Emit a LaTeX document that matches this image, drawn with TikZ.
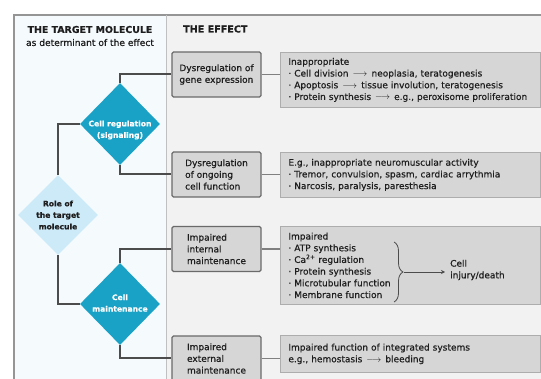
\documentclass[tikz,border=0pt]{standalone}
\usepackage{fontspec}
\setmainfont{DejaVu Sans}[RawFeature={embolden=0.6}]
\usetikzlibrary{shapes.geometric,arrows.meta,decorations.pathreplacing}
\definecolor{tealdia}{HTML}{1AA2C6}
\definecolor{paleblue}{HTML}{CDEAF8}
\definecolor{leftbg}{HTML}{F5FAFD}
\definecolor{rightbg}{HTML}{F2F2F2}
\definecolor{boxfill}{HTML}{D6D6D6}
\definecolor{boxline}{HTML}{6A6A6A}
\definecolor{detline}{HTML}{ADADAD}
\definecolor{conn}{HTML}{4C4C4C}
\definecolor{txt}{HTML}{1E1E1E}
\definecolor{frameline}{HTML}{959595}
\newcommand{\arr}{\hspace{0.45em}$\longrightarrow$\hspace{0.45em}}
\begin{document}
\begin{tikzpicture}[x=1pt,y=-1pt,
  every node/.style={inner sep=0pt, text=txt},
  body/.style={font=\fontsize{9}{11.7}\selectfont},
  effectbox/.style={draw=boxline, line width=1.1pt, fill=boxfill, rounded corners=1.5pt,
    minimum width=89pt, minimum height=45pt, align=left, body},
  detailbox/.style={draw=detline, line width=0.8pt, fill=boxfill, anchor=north west,
    text width=244pt, inner xsep=8pt, align=left, body},
  dshape/.style={diamond, minimum width=80pt, inner sep=0pt},
  dtext/.style={font=\bfseries\fontsize{7.6}{11.5}\selectfont, align=center},
  connector/.style={draw=conn, line width=2pt},
  link/.style={draw=boxline!85, line width=1.8pt},
  hdr/.style={font=\bfseries\fontsize{9.6}{13}\selectfont}
]
\clip (0,0) rectangle (541,379);
% panels
\fill[white] (0,0) rectangle (541,379);
\fill[leftbg] (14,15) rectangle (166,379);
\fill[rightbg] (166,15) rectangle (541,379);
\draw[frameline, line width=1.6pt] (14,379) -- (14,15) -- (541,15);
\draw[frameline!60, line width=0.6pt] (166.5,15) -- (166.5,379);

% headers
\node[align=center] (h1) at (90,36) {{\bfseries\fontsize{9.4}{13}\selectfont THE TARGET MOLECULE}\\[1pt]{\fontsize{9.1}{13}\selectfont as determinant of the effect}};
\node[hdr, anchor=west] (h2) at (183,29) {THE EFFECT};

% diamonds
\node[dshape, fill=paleblue, minimum height=80pt] (role) at (58,215) {};
\node[dtext] (rolet) at (58,215) {Role of\\the target\\molecule};
\node[dshape, fill=tealdia, minimum height=82pt] (cr) at (120,124) {};
\node[dtext, text=white] (crt) at (120,130) {Cell regulation\\(signaling)};
\node[dshape, fill=tealdia, minimum height=82pt] (cm) at (120,304) {};
\node[dtext, text=white] (cmt) at (120,303) {Cell\\maintenance};

% effect boxes
\node[effectbox] (b1) at (216.5,74.5) {Dysregulation of\\gene expression};
\node[effectbox] (b2) at (216.5,174.5) {Dysregulation\\of ongoing\\cell function};
\node[effectbox] (b3) at (216.5,249) {Impaired\\internal\\maintenance};
\node[effectbox] (b4) at (216.5,358.5) {Impaired\\external\\maintenance};

% detail boxes
\node[detailbox, minimum height=55pt] (d1) at (280,52) {Inappropriate\\· Cell division\arr neoplasia, teratogenesis\\· Apoptosis\arr tissue involution, teratogenesis\\· Protein synthesis\arr e.g., peroxisome proliferation};
\node[detailbox, minimum height=45pt] (d2) at (280,152) {E.g., inappropriate neuromuscular activity\\· Tremor, convulsion, spasm, cardiac arrythmia\\· Narcosis, paralysis, paresthesia};
\node[detailbox, minimum height=78pt] (d3) at (280,226) {Impaired\\· ATP synthesis\\· Ca\textsuperscript{2+} regulation\\· Protein synthesis\\· Microtubular function\\· Membrane function};
\node[detailbox, minimum height=37pt] (d4) at (280,335) {Impaired function of integrated systems\\e.g., hemostasis\arr bleeding};

% brace and outcome
\coordinate (bra) at (394,242);
\coordinate (brb) at (394,302);
\draw[conn, line width=0.8pt, decorate, decoration={brace, amplitude=9pt}] (bra) -- (brb);
\coordinate (bt) at (404,272);
\node[body, align=left, anchor=west] (inj) at (450,270) {Cell\\injury/death};
\draw[conn, line width=0.8pt, -{Stealth[length=4pt,width=4pt]}, shorten >=5pt] (bt) -- (bt -| inj.west);

% connectors
\draw[connector] (role.north) |- (cr.west);
\draw[connector] (role.south) |- (cm.west);
\draw[connector] (cr.north) |- (b1.west);
\draw[connector] (cr.south) |- (b2.west);
\draw[connector] (cm.north) |- (b3.west);
\draw[connector] (cm.south) |- (b4.west);
\draw[link] (b1.east) -- (b1.east -| d1.west);
\draw[link] (b2.east) -- (b2.east -| d2.west);
\draw[link] (b3.east) -- (b3.east -| d3.west);
\draw[link] (b4.east) -- (b4.east -| d4.west);
\end{tikzpicture}
\end{document}
